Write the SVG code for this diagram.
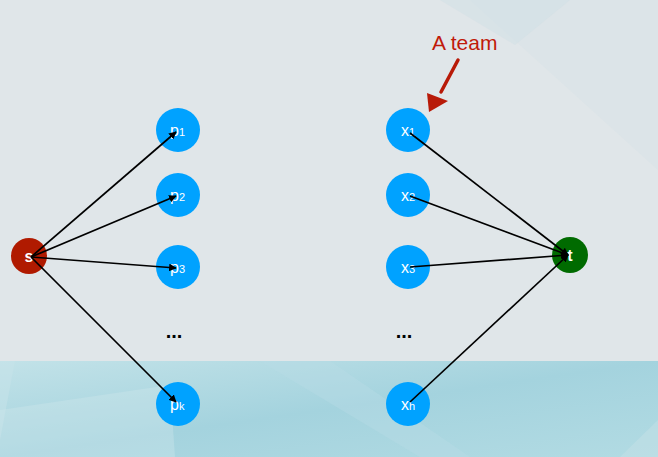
<svg xmlns="http://www.w3.org/2000/svg" width="658" height="457" viewBox="0 0 658 457">
<defs>
<style>
.n{fill:#00a2ff}
.lbl{font-family:"Liberation Sans",Arial,sans-serif;font-size:16px;fill:#fff}
.sub{font-size:11px}
.e{stroke:#000;stroke-width:1.7;fill:none;marker-end:url(#ah)}
.dots{font-family:"Liberation Sans",Arial,sans-serif;font-size:20px;fill:#000;font-weight:bold}
</style>
<marker id="ah" viewBox="0 0 10 10" refX="9" refY="5" markerWidth="4.5" markerHeight="4.5" orient="auto" markerUnits="strokeWidth"><path d="M0,0L10,5L0,10z" fill="#000"/></marker>
<linearGradient id="bot" x1="0" y1="0" x2="1" y2="1">
<stop offset="0" stop-color="#c2e2e8"/>
<stop offset="0.5" stop-color="#a4d3de"/>
<stop offset="1" stop-color="#b2dbe3"/>
</linearGradient>
</defs>
<rect width="658" height="457" fill="#e0e6e9"/>
<polygon points="470,0 658,0 658,170" fill="#d8e3e7" opacity="0.6"/>
<polygon points="440,0 515,45 570,0" fill="#d0e0e5" opacity="0.5"/>
<rect y="361" width="658" height="96" fill="url(#bot)"/>
<polygon points="0,361 15,361 0,440" fill="#c8e4ea" opacity="0.5"/>
<polygon points="260,361 330,361 470,457 420,457" fill="#b9dde5" opacity="0.4"/>
<polygon points="0,410 170,385 175,457 0,457" fill="#cde5ea" opacity="0.4"/>
<polygon points="620,457 658,420 658,457" fill="#c2e0e6" opacity="0.6"/>
<g id="node-s"><circle cx="29" cy="256" r="18" fill="#b01a00"/><text class="lbl" x="29" y="262" text-anchor="middle" font-weight="bold">s</text></g>
<g id="node-p1"><circle class="n" cx="178" cy="130" r="22"/><text class="lbl" x="170" y="136">p<tspan class="sub">1</tspan></text></g>
<g id="node-p2"><circle class="n" cx="178" cy="195" r="22"/><text class="lbl" x="170" y="201">p<tspan class="sub">2</tspan></text></g>
<g id="node-p3"><circle class="n" cx="178" cy="267" r="22"/><text class="lbl" x="170" y="273">p<tspan class="sub">3</tspan></text></g>
<g id="node-pk"><circle class="n" cx="178" cy="404" r="22"/><text class="lbl" x="170" y="410">p<tspan class="sub">k</tspan></text></g>
<g id="node-x1"><circle class="n" cx="408" cy="130" r="22"/><text class="lbl" x="401" y="136">x<tspan class="sub">1</tspan></text></g>
<g id="node-x2"><circle class="n" cx="408" cy="195" r="22"/><text class="lbl" x="401" y="201">x<tspan class="sub">2</tspan></text></g>
<g id="node-x3"><circle class="n" cx="408" cy="267" r="22"/><text class="lbl" x="401" y="273">x<tspan class="sub">3</tspan></text></g>
<g id="node-xh"><circle class="n" cx="408" cy="404" r="22"/><text class="lbl" x="401" y="410">x<tspan class="sub">h</tspan></text></g>
<g id="node-t"><circle cx="570" cy="255" r="18" fill="#006b00"/><text class="lbl" x="570" y="261" text-anchor="middle" font-weight="bold">t</text></g>
<g id="connectors">
<line class="e" x1="31" y1="257" x2="176" y2="132"/>
<line class="e" x1="31" y1="257" x2="176" y2="196"/>
<line class="e" x1="31" y1="257" x2="176" y2="268"/>
<line class="e" x1="31" y1="257" x2="176" y2="402"/>
<line class="e" x1="410" y1="133" x2="568" y2="255"/>
<line class="e" x1="410" y1="196" x2="568" y2="255"/>
<line class="e" x1="410" y1="267" x2="568" y2="255"/>
<line class="e" x1="410" y1="402" x2="568" y2="255"/>
</g>
<text class="dots" x="174" y="338" text-anchor="middle">...</text>
<text class="dots" x="404" y="338" text-anchor="middle">...</text>
<g id="annotation">
<text x="432" y="50" font-family="Liberation Sans,Arial,sans-serif" font-size="21" fill="#c01a0a">A team</text>
<line x1="458" y1="60" x2="441" y2="92" stroke="#b81a08" stroke-width="3.5" stroke-linecap="round"/>
<polygon points="427,93 448,101 429,112" fill="#b81a08"/>
</g>
</svg>
